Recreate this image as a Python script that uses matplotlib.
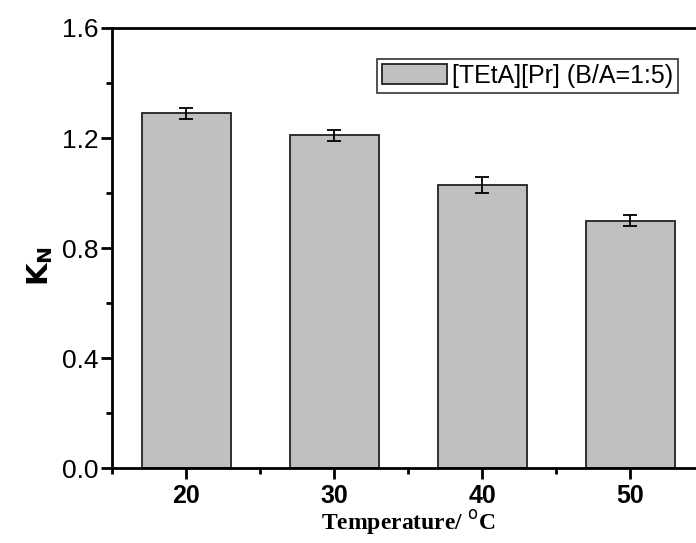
import matplotlib
matplotlib.use('Agg')
import matplotlib.pyplot as plt
import numpy as np
from matplotlib.ticker import MultipleLocator

temps = [20, 30, 40, 50]
kn = [1.29, 1.21, 1.03, 0.90]
kn_err = [0.02, 0.02, 0.03, 0.02]
label = '[TEtA][Pr] (B/A=1:5)'

plt.rcParams['font.family'] = ['Liberation Sans', 'DejaVu Sans']

fig = plt.figure(figsize=(6.96, 5.43), dpi=100)
ax = fig.add_axes([0.1616, 0.1376, 0.8506, 0.811])

ax.bar(temps, kn, width=6, color='#c0c0c0', edgecolor='#222222', linewidth=1.3,
       yerr=kn_err, capsize=5, error_kw=dict(ecolor='black', elinewidth=1.3, capthick=1.3),
       label=label)

ax.set_xlim(15, 55)
ax.set_ylim(0, 1.6)
ax.set_xticks(temps)
ax.set_yticks([0.0, 0.4, 0.8, 1.2, 1.6])
ax.set_yticklabels(['0.0', '0.4', '0.8', '1.2', '1.6'])
ax.xaxis.set_minor_locator(MultipleLocator(5))
ax.yaxis.set_minor_locator(MultipleLocator(0.2))

for s in ax.spines.values():
    s.set_linewidth(2)

ax.tick_params(axis='both', which='major', length=8, width=2, direction='out')
ax.tick_params(axis='both', which='minor', length=4, width=2, direction='out')
ax.tick_params(axis='y', labelsize=19, pad=2)
ax.tick_params(axis='x', labelsize=18, pad=3)
for t in ax.get_xticklabels():
    t.set_fontweight('bold')

ax.set_ylabel(r'$\mathbf{K}_{\mathbf{N}}$', fontsize=21)
ax.yaxis.set_label_coords(-0.097, 0.46)
ax.set_xlabel('Temperature/ $^{\\mathrm{o}}$C', fontsize=17, fontweight='bold',
              family='Liberation Serif', labelpad=0)

leg = ax.legend(loc='upper right', bbox_to_anchor=(0.955, 0.93), fontsize=18,
                frameon=True, fancybox=False, edgecolor='black', handlelength=2.6,
                handleheight=0.8, handletextpad=0.2, borderpad=0.2, borderaxespad=0)
leg.get_frame().set_linewidth(1.2)

fig.savefig('out.png', dpi=100)
